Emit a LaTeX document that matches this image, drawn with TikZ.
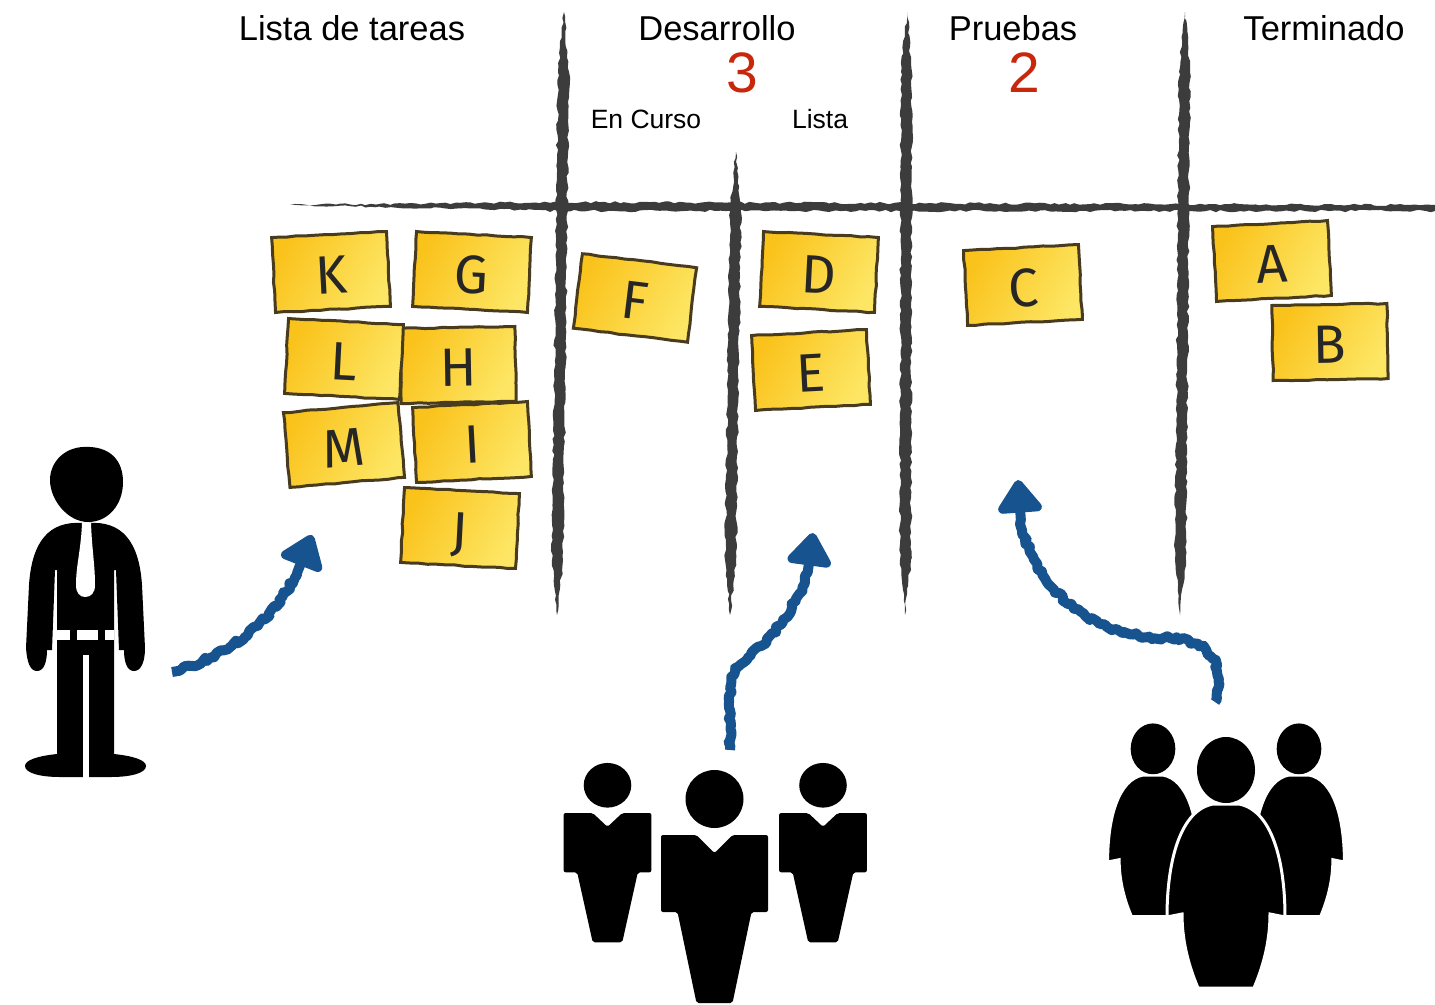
\documentclass[tikz,border=0pt]{standalone}
\usepackage{fontspec}
\setmainfont{Liberation Sans}
\newfontfamily\notefont{Fira Sans}
\usetikzlibrary{arrows.meta,decorations.pathmorphing}
\definecolor{boardgray}{HTML}{3C3C3C}
\definecolor{notebrown}{HTML}{483B1E}
\definecolor{notedeep}{HTML}{FAC31C}
\definecolor{notelight}{HTML}{FDE664}
\definecolor{arrowblue}{HTML}{17538F}
\definecolor{limitred}{HTML}{C9270B}
\tikzset{
  note/.style={draw=notebrown,line width=3pt,left color=notedeep,right color=notelight,
    shading angle=60,minimum width=115pt,minimum height=75pt,inner sep=0pt,text=black!85,
    text height=43pt,text depth=0pt,
    font=\notefont\fontsize{54}{54}\selectfont,decorate,decoration={random steps,segment length=9pt,amplitude=.5pt}},
  board/.style={fill=boardgray,decorate,decoration={random steps,segment length=5pt,amplitude=1.2pt}},
  flow/.style={draw=arrowblue,line width=10pt,line join=round,-{Triangle[length=36pt,width=50pt,round]},
    decorate,decoration={random steps,segment length=3.5pt,amplitude=2pt,post length=40pt}},
  column/.style={font=\fontsize{34.5}{36}\selectfont},
  subcolumn/.style={font=\fontsize{26.5}{28}\selectfont},
  limit/.style={text=limitred,font=\fontsize{57}{58}\selectfont},
  suitman/.pic={
    \fill (0,-36) circle [x radius=29,y radius=29];
    \fill [rounded corners=2pt] (-18,0) -- (-53.5,0) -- (-53.5,77) -- (-37,77) -- (-18,168) -- (18,168) -- (37,77) -- (53.5,77) -- (53.5,0) -- (18,0) -- (0,18) -- cycle;
  },
  bellman/.pic={
    \filldraw [draw=white,line width=3pt] (-13,0) .. controls (-45,6) and (-59,55) .. (-59,113) -- (-44,110) .. controls (-44,140) and (-36,165) .. (-28,184) -- (28,184) .. controls (36,165) and (44,140) .. (44,110) -- (59,113) .. controls (59,55) and (45,6) .. (13,0) -- cycle;
    \fill (0,-34) circle [x radius=29,y radius=33];
  }
}
\begin{document}
\begin{tikzpicture}[x=1pt,y=-1pt]
\useasboundingbox (0,0) rectangle (1435,1004);
\pgfmathsetseed{11}

\node [column] (todo) at (352,28) {Lista de tareas};
\node [column] (dev) at (717,28) {Desarrollo};
\node [column] (test) at (1013,28) {Pruebas};
\node [column] (done) at (1324,28) {Terminado};
\node [limit] (devlimit) at (742,73) {3};
\node [limit] (testlimit) at (1024,73) {2};
\node [subcolumn] (doing) at (646,119) {En Curso};
\node [subcolumn] (ready) at (820,119) {Lista};

\fill [board] (290,205) -- (560,202) -- (1435,205) -- (1435,211) -- (900,211) -- (560,211) -- cycle;
\foreach \xt/\xb/\yt in {564/557/12, 736/730/152, 907/905/12, 1185/1180/12}
  \fill [board] (\xt,\yt) -- ({\xt+5},{\yt+60}) -- ({\xb+6},560) -- (\xb,615) -- ({\xb-5},560) -- ({\xt-6},{\yt+60}) -- cycle;

\node [note,rotate=3] (k) at (331,272) {K};
\node [note,rotate=-3] (g) at (472,272) {G};
\node [note,rotate=1] (h) at (458,365) {H};
\node [note,rotate=-3] (l) at (344,359) {L};
\node [note,rotate=5] (m) at (344,445) {M};
\node [note,rotate=3] (i) at (472,442) {I};
\node [note,rotate=-3] (j) at (460,528) {J};
\node [note,rotate=-7] (f) at (635,298) {F};
\node [note,rotate=-3] (d) at (819,272) {D};
\node [note,rotate=3] (e) at (811,370) {E};
\node [note,rotate=3] (c) at (1023,285) {C};
\node [note,rotate=3] (a) at (1272,261) {A};
\node [note,rotate=1] (b) at (1330,342) {B};

\coordinate (ownerout) at (172,672);
\coordinate (todoin) at (312,535);
\coordinate (devout) at (730,750);
\coordinate (devin) at (813,533);
\coordinate (testout) at (1215,702);
\coordinate (testin) at (1018,480);
\draw [flow] (ownerout) .. controls (235,655) and (290,610) .. (todoin);
\draw [flow] (devout) .. controls (730,700) and (728,680) .. (735,668) .. controls (760,650) and (815,600) .. (devin);
\draw [flow] (testout) .. controls (1228,660) and (1205,640) .. (1170,638) .. controls (1110,640) and (1015,600) .. (testin);

\fill (90,447) .. controls (65,445) and (50,462) .. (50,480) .. controls (50,500) and (68,522) .. (88,522) .. controls (108,522) and (123,505) .. (123,482) .. controls (123,460) and (110,448) .. (90,447) -- cycle;
\fill (82,523) .. controls (50,521) and (32,540) .. (29,585) -- (26,648) .. controls (27,662) and (30,671) .. (37,671) .. controls (44,671) and (47,662) .. (47,650) -- (52,650) -- (55,570) -- (57,570) -- (57,775) -- (114,775) -- (114,570) -- (116,570) -- (119,650) -- (124,650) .. controls (124,662) and (127,671) .. (134,671) .. controls (141,671) and (145,662) .. (145,648) -- (142,585) .. controls (139,540) and (121,521) .. (89,523) -- cycle;
\fill (57,754) .. controls (38,756) and (25,760) .. (25,766) .. controls (25,773) and (40,777) .. (60,777) -- (111,777) .. controls (131,777) and (146,773) .. (146,766) .. controls (146,760) and (133,756) .. (114,754) -- cycle;
\fill [white] (82,523) -- (91,523) .. controls (92,550) and (95,565) .. (95,585) .. controls (95,593) and (91,597) .. (85,597) .. controls (80,597) and (76,593) .. (76,585) .. controls (76,565) and (81,550) .. (82,523) -- cycle;
\fill [white] (57,630) rectangle (70,640);
\fill [white] (77,630) rectangle (98,640);
\fill [white] (105,630) rectangle (114,640);
\fill [white] (83,655) rectangle (89,778);

\pic (devleft) [xscale=.82,yscale=.77] at (607.5,813) {suitman};
\pic (devright) [xscale=.82,yscale=.77] at (823,813) {suitman};
\pic (devlead) at (714.5,835) {suitman};

\pic (testleft) [scale=.77] at (1153,775) {bellman};
\pic (testright) [scale=.77] at (1299,775) {bellman};
\pic (testlead) at (1226,804) {bellman};
\end{tikzpicture}
\end{document}
